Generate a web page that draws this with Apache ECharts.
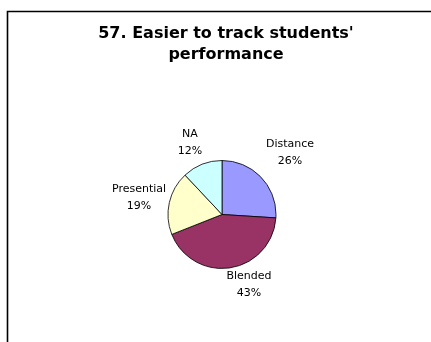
<!DOCTYPE html>
<html><head><meta charset="utf-8">
<script src="https://cdn.jsdelivr.net/npm/echarts@6/dist/echarts.min.js"></script>
<style>html,body{margin:0;padding:0;background:#fff;}#c{width:431px;height:342px;}</style>
</head><body>
<div id="c"></div>
<script>
const categories = ['Distance', 'Blended', 'Presential', 'NA'];
const values = [26, 43, 19, 12];
const colors = ['#9999FF', '#993366', '#FFFFCC', '#CCFFFF'];
const titleText = "57. Easier to track students'\nperformance";

// layout (style) settings
const pieCenter = [222, 214.5];
const pieRadius = 54;
// label block centre offsets from the pie centre, per slice
const labelOffsets = [[68, -62], [27, 70], [-83, -17], [-32, -72]];

const chart = echarts.init(document.getElementById('c'), null, {renderer: 'canvas'});
chart.setOption({
  animation: false,
  backgroundColor: '#fff',
  graphic: [{
    type: 'polyline', silent: true,
    shape: {points: [[7.5, 345], [7.5, 11.5], [435, 11.5]]},
    style: {stroke: '#000', lineWidth: 1.6, fill: null}
  }],
  title: {
    text: titleText, left: 221, top: 18, textAlign: 'center',
    textStyle: {fontFamily: 'DejaVu Sans', fontSize: 16, fontWeight: 'bold', color: '#000', lineHeight: 21}
  },
  series: [{
    type: 'pie',
    center: pieCenter,
    radius: pieRadius,
    startAngle: 90,
    clockwise: true,
    data: categories.map((c, i) => ({name: c, value: values[i], itemStyle: {color: colors[i]}})),
    itemStyle: {borderColor: '#000', borderWidth: 0.8},
    label: {
      show: true, position: 'outside',
      formatter: p => p.name + '\n' + Math.round(p.percent) + '%',
      fontFamily: 'DejaVu Sans', fontSize: 11, color: '#000', lineHeight: 17, align: 'center'
    },
    labelLine: {show: false},
    labelLayout: function (params) {
      const o = labelOffsets[params.dataIndex];
      return {x: pieCenter[0] + o[0], y: pieCenter[1] + o[1], align: 'center', verticalAlign: 'middle'};
    }
  }]
});
</script>
</body></html>
